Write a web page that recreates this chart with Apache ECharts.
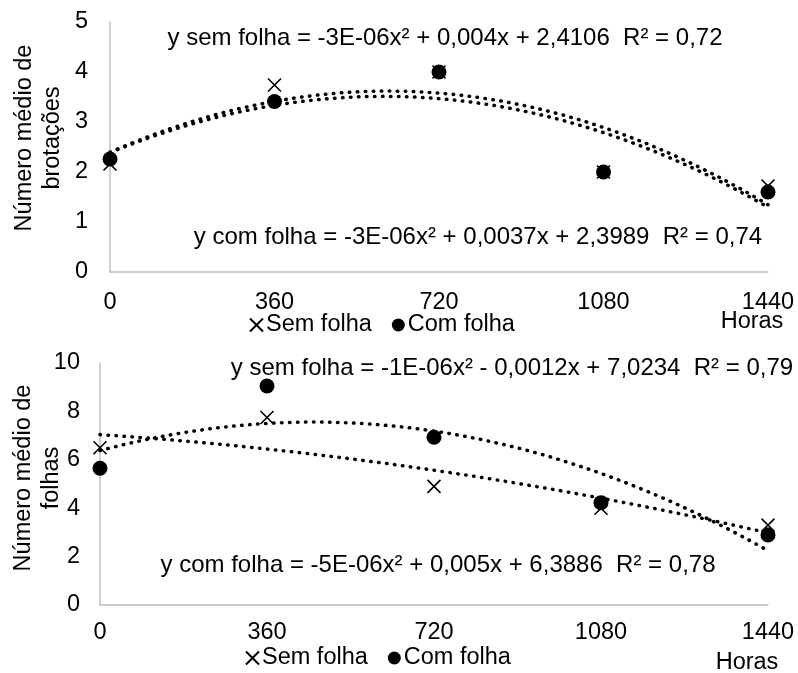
<!DOCTYPE html>
<html>
<head>
<meta charset="utf-8">
<script src="https://cdn.jsdelivr.net/npm/echarts@6/dist/echarts.min.js"></script>
<style>
html,body{margin:0;padding:0;background:#fff;}
#chart{width:798px;height:673px;}
</style>
</head>
<body>
<div id="chart"></div>
<script>
// ---- data ----
var hours = [0, 360, 720, 1080, 1440];
var xTicks = ['0', '360', '720', '1080', '1440'];
// top panel: número médio de brotações
var brotSem = [2.16, 3.74, 4.0, 2.0, 1.72];
var brotCom = [2.26, 3.41, 4.0, 2.0, 1.6];
// bottom panel: número médio de folhas
var folhSem = [6.5, 7.75, 4.9, 4.0, 3.3];
var folhCom = [5.65, 9.05, 6.93, 4.23, 2.89];
var eqBrotSem = 'y sem folha = -3E-06x² + 0,004x + 2,4106  R² = 0,72';
var eqBrotCom = 'y com folha = -3E-06x² + 0,0037x + 2,3989  R² = 0,74';
var eqFolhSem = 'y sem folha = -1E-06x² - 0,0012x + 7,0234  R² = 0,79';
var eqFolhCom = 'y com folha = -5E-06x² + 0,005x + 6,3886  R² = 0,78';
var yNameTop = 'Número médio de\nbrotações';
var yNameBot = 'Número médio de\nfolhas';
var xName = 'Horas';
var nameSem = 'Sem folha';
var nameCom = 'Com folha';

// ---- quadratic least-squares trend (Excel-style polynomial trendline) ----
function quadFit(xs, ys) {
  var S = [0,0,0,0,0], T = [0,0,0];
  for (var i = 0; i < xs.length; i++) {
    var p = 1;
    for (var k = 0; k < 5; k++) { S[k] += p; if (k < 3) T[k] += p * ys[i]; p *= xs[i]; }
  }
  var A = [[S[0],S[1],S[2],T[0]],[S[1],S[2],S[3],T[1]],[S[2],S[3],S[4],T[2]]];
  for (var c = 0; c < 3; c++) {
    for (var r = c + 1; r < 3; r++) {
      var f = A[r][c] / A[c][c];
      for (var j = c; j < 4; j++) A[r][j] -= f * A[c][j];
    }
  }
  var sol = [0,0,0];
  for (var r2 = 2; r2 >= 0; r2--) {
    var s = A[r2][3];
    for (var j2 = r2 + 1; j2 < 3; j2++) s -= A[r2][j2] * sol[j2];
    sol[r2] = s / A[r2][r2];
  }
  return sol;
}
function trend(xs, ys) {
  var c = quadFit(xs, ys), out = [];
  var x0 = xs[0], x1 = xs[xs.length - 1];
  for (var x = x0; x <= x1 + 1e-9; x += 12) out.push([x, c[0] + c[1] * x + c[2] * x * x]);
  return out;
}
function pts(xs, ys) { return xs.map(function (x, i) { return [x, ys[i]]; }); }

var FONT = 'Liberation Sans, Arial, sans-serif';
var FS = 23.5;
var FS_EQ = 24;
var crossPath = 'path://M0,0L10,10M10,0L0,10';

function xAxis(gridIndex, margin) {
  return {
    type: 'value', gridIndex: gridIndex, min: 0, max: 1440, interval: 360,
    axisLine: { show: true, lineStyle: { color: '#bfbfbf', width: 1.5 } },
    axisTick: { show: false }, splitLine: { show: false },
    axisLabel: { color: '#000', fontSize: FS, fontFamily: FONT, margin: margin,
      formatter: function (v) { var i = hours.indexOf(v); return i >= 0 ? xTicks[i] : ''; } }
  };
}
function yAxis(gridIndex, max, interval, margin) {
  return {
    type: 'value', gridIndex: gridIndex, min: 0, max: max, interval: interval,
    axisLine: { show: true, lineStyle: { color: '#bfbfbf', width: 1.5 } },
    axisTick: { show: false }, splitLine: { show: false },
    axisLabel: { color: '#000', fontSize: FS, fontFamily: FONT, margin: margin }
  };
}
function trendSeries(idx, data) {
  return {
    type: 'line', xAxisIndex: idx, yAxisIndex: idx, data: data, symbol: 'none', smooth: false,
    silent: true, z: 1,
    lineStyle: { color: '#000', width: 3.5, type: [0.5, 7.5], cap: 'round', opacity: 1 }
  };
}
function semSeries(idx, ys) {
  return {
    name: nameSem, type: 'scatter', xAxisIndex: idx, yAxisIndex: idx, data: pts(hours, ys),
    symbol: crossPath, symbolSize: 13, z: 3,
    itemStyle: { color: 'rgba(0,0,0,0)', borderColor: '#000', borderWidth: 1.6, opacity: 1 }
  };
}
function comSeries(idx, ys) {
  return {
    name: nameCom, type: 'scatter', xAxisIndex: idx, yAxisIndex: idx, data: pts(hours, ys),
    symbol: 'circle', symbolSize: 15, z: 4,
    itemStyle: { color: '#000', opacity: 1 }
  };
}
function legend(left, top) {
  return {
    left: left, top: top, padding: 0, itemGap: 20, itemWidth: 13, itemHeight: 13,
    textStyle: { color: '#000', fontSize: FS, fontFamily: FONT, padding: [0, 0, 0, -2] },
    data: [nameSem, nameCom], selectedMode: false
  };
}
function txt(x, y, text, size, rot) {
  return {
    type: 'text', x: x, y: y, rotation: rot || 0, silent: true,
    style: { text: text, fill: '#000', font: size + 'px ' + FONT, align: 'center',
      verticalAlign: 'middle', lineHeight: 28 }
  };
}

var chart = echarts.init(document.getElementById('chart'), null, { renderer: 'canvas' });
chart.setOption({
  backgroundColor: '#fff',
  animation: false,
  grid: [
    { left: 110, right: 30, top: 22, height: 250 },
    { left: 100, right: 30, top: 363, height: 242 }
  ],
  xAxis: [xAxis(0, 19), xAxis(1, 16)],
  yAxis: [yAxis(0, 5, 1, 22), yAxis(1, 10, 2, 20)],
  legend: [legend(249, 313), legend(245, 646)],
  series: [
    trendSeries(0, trend(hours, brotSem)),
    trendSeries(0, trend(hours, brotCom)),
    semSeries(0, brotSem),
    comSeries(0, brotCom),
    trendSeries(1, trend(hours, folhSem)),
    trendSeries(1, trend(hours, folhCom)),
    semSeries(1, folhSem),
    comSeries(1, folhCom)
  ],
  graphic: [
    txt(39, 138, yNameTop, FS, Math.PI / 2),
    txt(38, 478, yNameBot, FS, Math.PI / 2),
    txt(445, 38, eqBrotSem, FS_EQ),
    txt(478, 237, eqBrotCom, FS_EQ),
    txt(512, 368, eqFolhSem, FS_EQ),
    txt(438, 565, eqFolhCom, FS_EQ),
    txt(752, 322, xName, FS),
    txt(747, 663, xName, FS)
  ]
});
</script>
</body>
</html>
